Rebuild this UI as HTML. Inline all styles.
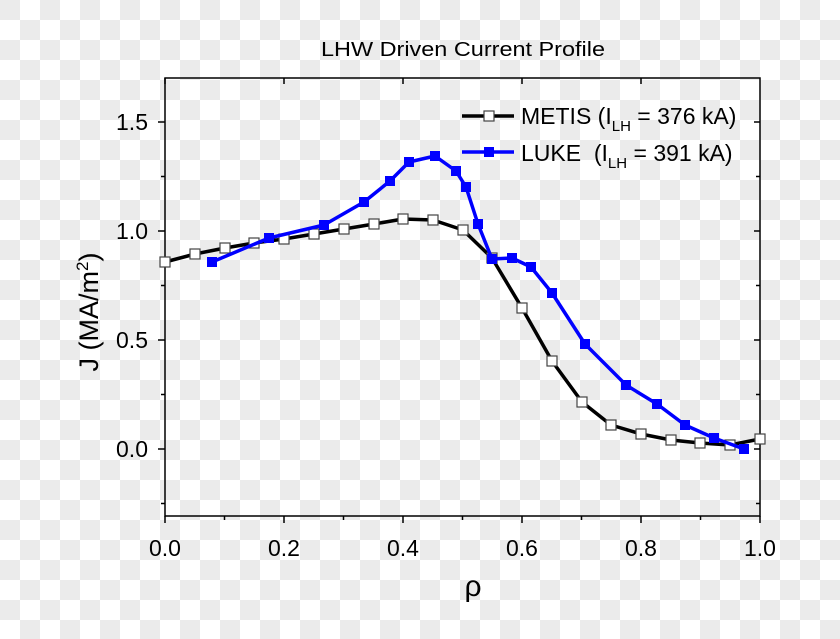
<!DOCTYPE html>
<html><head><style>
html,body{margin:0;padding:0;}
body{width:840px;height:639px;overflow:hidden;
background-color:#fff;
background-image:linear-gradient(45deg,#ebebeb 25%,transparent 25%,transparent 75%,#ebebeb 75%),linear-gradient(45deg,#ebebeb 25%,transparent 25%,transparent 75%,#ebebeb 75%);
background-size:40px 40px;background-position:20px 0,0 20px;}
text{font-family:"Liberation Sans",Arial,sans-serif;fill:#000;}
</style></head><body>
<svg width="840" height="639" style="position:absolute;left:0;top:0">
<text x="463" y="56" font-size="20" text-anchor="middle" textLength="284" lengthAdjust="spacingAndGlyphs">LHW Driven Current Profile</text>
<rect x="165" y="78" width="595" height="438" fill="none" stroke="#000" stroke-width="1.5"/>
<g stroke="#000" stroke-width="1.5">
<line x1="158" y1="122" x2="165" y2="122"/><line x1="158" y1="231" x2="165" y2="231"/><line x1="158" y1="340" x2="165" y2="340"/><line x1="158" y1="449" x2="165" y2="449"/>
<line x1="161" y1="176.5" x2="165" y2="176.5"/><line x1="161" y1="285.5" x2="165" y2="285.5"/><line x1="161" y1="394.5" x2="165" y2="394.5"/><line x1="161" y1="503.5" x2="165" y2="503.5"/>
<line x1="754" y1="122" x2="760" y2="122"/><line x1="754" y1="231" x2="760" y2="231"/><line x1="754" y1="340" x2="760" y2="340"/><line x1="754" y1="449" x2="760" y2="449"/>
<line x1="756" y1="176.5" x2="760" y2="176.5"/><line x1="756" y1="285.5" x2="760" y2="285.5"/><line x1="756" y1="394.5" x2="760" y2="394.5"/><line x1="756" y1="503.5" x2="760" y2="503.5"/>
<line x1="165" y1="516" x2="165" y2="523"/><line x1="284" y1="516" x2="284" y2="523"/><line x1="403" y1="516" x2="403" y2="523"/><line x1="522" y1="516" x2="522" y2="523"/><line x1="641" y1="516" x2="641" y2="523"/><line x1="760" y1="516" x2="760" y2="523"/>
<line x1="224.5" y1="516" x2="224.5" y2="520"/><line x1="343.5" y1="516" x2="343.5" y2="520"/><line x1="462.5" y1="516" x2="462.5" y2="520"/><line x1="581.5" y1="516" x2="581.5" y2="520"/><line x1="700.5" y1="516" x2="700.5" y2="520"/>
<line x1="165" y1="78" x2="165" y2="84"/><line x1="284" y1="78" x2="284" y2="84"/><line x1="403" y1="78" x2="403" y2="84"/><line x1="522" y1="78" x2="522" y2="84"/><line x1="641" y1="78" x2="641" y2="84"/>
</g>
<g font-size="23" text-anchor="end">
<text x="148" y="130">1.5</text><text x="148" y="239">1.0</text><text x="148" y="348">0.5</text><text x="148" y="457">0.0</text>
</g>
<g font-size="23" text-anchor="middle">
<text x="165" y="556">0.0</text><text x="284" y="556">0.2</text><text x="403" y="556">0.4</text><text x="522" y="556">0.6</text><text x="641" y="556">0.8</text><text x="760" y="556">1.0</text>
</g>
<text x="473" y="596" font-size="30" text-anchor="middle" font-family="Liberation Serif">ρ</text>
<text transform="translate(98,312) rotate(-90)" font-size="27" text-anchor="middle">J (MA/m<tspan font-size="17" dy="-10">2</tspan><tspan dy="10">)</tspan></text>
<polyline fill="none" stroke="#000" stroke-width="3.5" stroke-linejoin="round" points="165,262 195,254 225,248 254,243 284,239 314,234 344,229 374,224 403,219 433,220 463,230 492,258 522,308 552,361 582,402 611,425 641,434 671,440 700,443 730,445 760,439"/>
<g fill="#fff" stroke="#444" stroke-width="1.2">
<rect x="160" y="257" width="10" height="10"/><rect x="190" y="249" width="10" height="10"/><rect x="220" y="243" width="10" height="10"/><rect x="249" y="238" width="10" height="10"/><rect x="279" y="234" width="10" height="10"/><rect x="309" y="229" width="10" height="10"/><rect x="339" y="224" width="10" height="10"/><rect x="369" y="219" width="10" height="10"/><rect x="398" y="214" width="10" height="10"/><rect x="428" y="215" width="10" height="10"/><rect x="458" y="225" width="10" height="10"/><rect x="487" y="253" width="10" height="10"/><rect x="517" y="303" width="10" height="10"/><rect x="547" y="356" width="10" height="10"/><rect x="577" y="397" width="10" height="10"/><rect x="606" y="420" width="10" height="10"/><rect x="636" y="429" width="10" height="10"/><rect x="666" y="435" width="10" height="10"/><rect x="695" y="438" width="10" height="10"/><rect x="725" y="440" width="10" height="10"/><rect x="755" y="434" width="10" height="10"/>
</g>
<polyline fill="none" stroke="#0000ff" stroke-width="3.5" stroke-linejoin="round" points="212,262 269,238 324,225 364,202 390,181 409,162 435,156 456,171 466,187 478,224 492,259 512,258 531,267 552,293 585,344 626,385 657,404 685,425 714,438 744,449"/>
<g fill="#0000ff">
<rect x="207" y="257" width="10" height="10"/><rect x="264" y="233" width="10" height="10"/><rect x="319" y="220" width="10" height="10"/><rect x="359" y="197" width="10" height="10"/><rect x="385" y="176" width="10" height="10"/><rect x="404" y="157" width="10" height="10"/><rect x="430" y="151" width="10" height="10"/><rect x="451" y="166" width="10" height="10"/><rect x="461" y="182" width="10" height="10"/><rect x="473" y="219" width="10" height="10"/><rect x="487" y="254" width="10" height="10"/><rect x="507" y="253" width="10" height="10"/><rect x="526" y="262" width="10" height="10"/><rect x="547" y="288" width="10" height="10"/><rect x="580" y="339" width="10" height="10"/><rect x="621" y="380" width="10" height="10"/><rect x="652" y="399" width="10" height="10"/><rect x="680" y="420" width="10" height="10"/><rect x="709" y="433" width="10" height="10"/><rect x="739" y="444" width="10" height="10"/>
</g>
<line x1="462" y1="116" x2="514" y2="116" stroke="#000" stroke-width="3.5"/>
<rect x="484" y="111" width="10" height="10" fill="#fff" stroke="#444" stroke-width="1.2"/>
<line x1="462" y1="152" x2="514" y2="152" stroke="#0000ff" stroke-width="3.5"/>
<rect x="484" y="147" width="10" height="10" fill="#0000ff"/>
<text x="521" y="124" font-size="23">METIS (I<tspan font-size="15" dy="7">LH</tspan><tspan dy="-7"> = 376 kA)</tspan></text>
<text x="521" y="161" font-size="23" xml:space="preserve">LUKE  (I<tspan font-size="15" dy="7">LH</tspan><tspan dy="-7"> = 391 kA)</tspan></text>
</svg>
</body></html>
